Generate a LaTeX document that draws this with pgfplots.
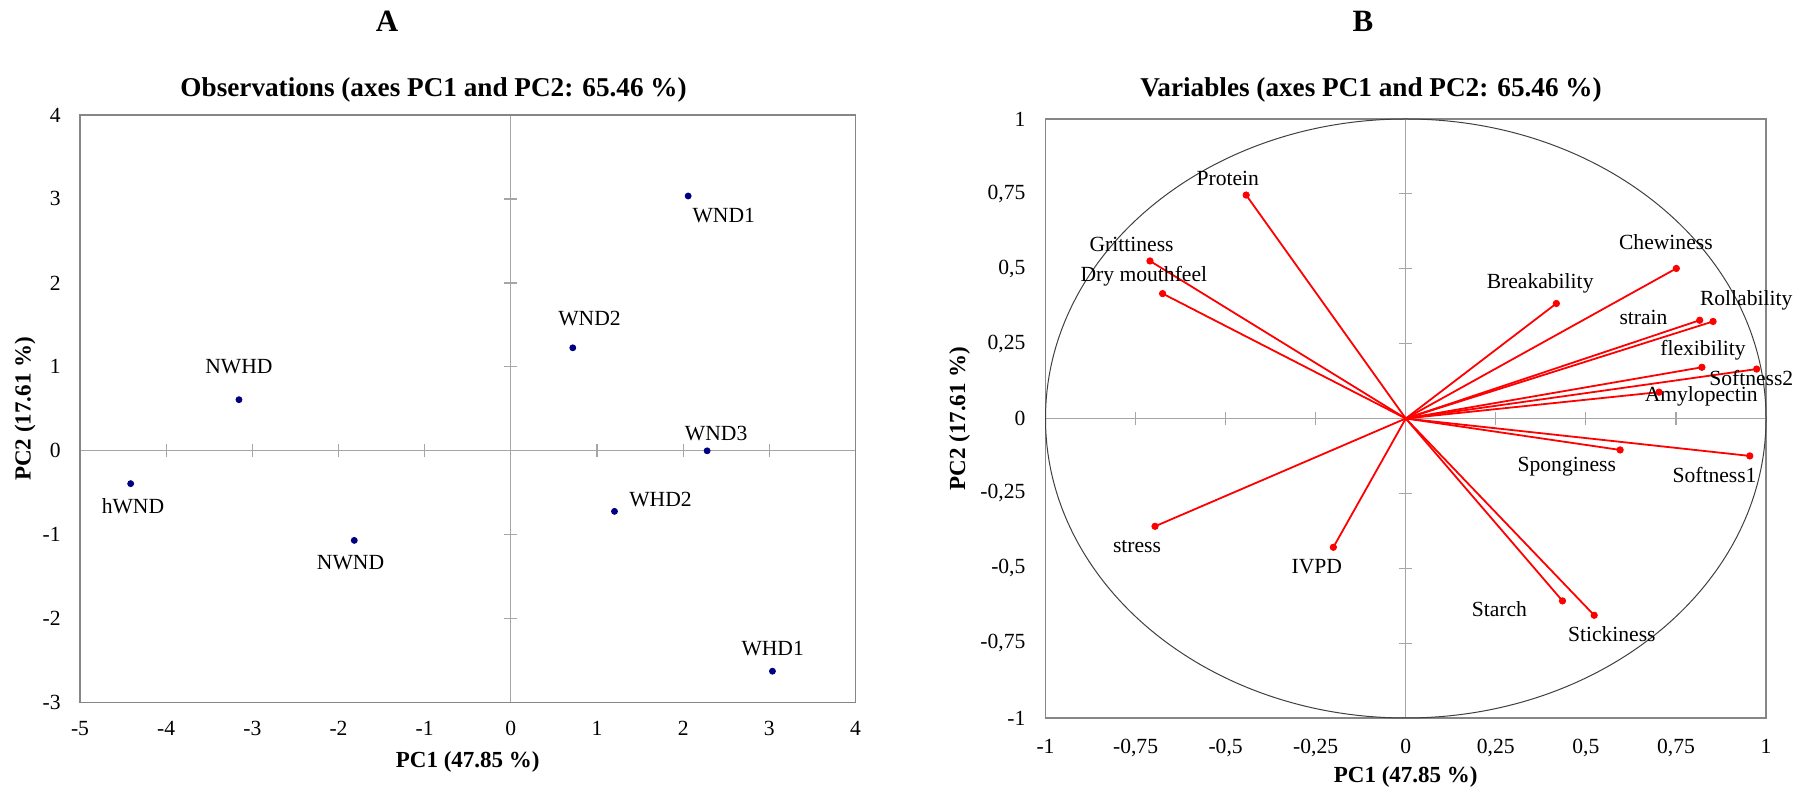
\documentclass[border=0pt]{standalone}
\usepackage{fontspec}
\setmainfont{Liberation Serif}
\usepackage{pgfplots}
\usepackage{pgfplotstable}
\pgfplotsset{compat=1.18}
\definecolor{navyd}{HTML}{000080}
\definecolor{framegray}{HTML}{868686}
\definecolor{zerogray}{HTML}{A6A6A6}
\definecolor{circgray}{HTML}{404040}

% Observations (PC1, PC2 scores)
\pgfplotstableread{
x y
2.058 3.035
0.719 1.227
2.278 0.000
-3.155 0.609
-4.412 -0.391
-1.817 -1.067
1.203 -0.721
3.036 -2.625
}\obsdata

% Variables (loadings on PC1, PC2)
\pgfplotstableread{
x y
-0.443 0.746
-0.710 0.526
-0.675 0.417
0.751 0.501
0.418 0.384
0.816 0.328
0.853 0.324
0.822 0.171
0.974 0.165
0.703 0.088
0.595 -0.105
0.955 -0.125
-0.696 -0.360
-0.201 -0.430
0.435 -0.609
0.523 -0.657
}\vardata

\tikzset{lbl/.style={font=\fontsize{10.8}{13}\selectfont}}

\begin{document}
\begin{tikzpicture}[font=\fontsize{10.8}{13}\selectfont]
\useasboundingbox (0,0) rectangle (906.5pt,395pt);

% ---------- titles ----------
\node[font=\fontsize{15.5}{18}\selectfont\bfseries] at (193.5pt,384.2pt) {A};
\node[font=\fontsize{13.6}{16}\selectfont\bfseries] at (216.8pt,350pt) {Observations (axes PC1 and PC2: 65.46 \%)};
\node[font=\fontsize{15.5}{18}\selectfont\bfseries] at (681.5pt,384.2pt) {B};
\node[font=\fontsize{13.6}{16}\selectfont\bfseries] at (685.5pt,350pt) {Variables (axes PC1 and PC2: 65.46 \%)};

% ---------- left panel: zero lines ----------
\begin{axis}[at={(40pt,43.65pt)}, anchor=south west, scale only axis,
  width=387.75pt, height=293.85pt,
  xmin=-5, xmax=4, ymin=-3, ymax=4,
  axis lines=middle, axis line style={-, draw=zerogray, line width=0.6pt},
  xtick={-4,-3,-2,-1,1,2,3}, ytick={-2,-1,1,2,3},
  tick label style={opacity=0, text opacity=0},
  tick align=center, major tick length=6.5pt,
  tick style={draw=zerogray, line width=0.6pt}]
\end{axis}

% ---------- left panel: frame, data ----------
\begin{axis}[at={(40pt,43.65pt)}, anchor=south west, scale only axis,
  width=387.75pt, height=293.85pt,
  xmin=-5, xmax=4, ymin=-3, ymax=4,
  xtick={-5,-4,-3,-2,-1,0,1,2,3,4}, ytick={-3,-2,-1,0,1,2,3,4},
  major tick length=0pt,
  axis line style={draw=framegray, line width=0.8pt},
  tick label style={font=\fontsize{10.8}{13}\selectfont},
  /pgf/number format/assume math mode=true,
  xticklabel style={yshift=-5.85pt}, yticklabel style={xshift=-6.15pt},
  xlabel={PC1 (47.85 \%)}, ylabel={PC2 (17.61 \%)},
  xlabel style={at={(axis description cs:0.5,0)}, anchor=center, yshift=-29.5pt,
    font=\fontsize{11.5}{13}\selectfont\bfseries},
  ylabel style={at={(axis description cs:0,0.5)}, anchor=center, yshift=27.5pt,
    font=\fontsize{11.5}{13}\selectfont\bfseries},
  clip=false]
  \addplot[only marks, mark=*, mark size=1.5pt, color=navyd] table[x=x,y=y] {\obsdata};
  \node[lbl] at (axis cs:2.471,2.808) {WND1};
  \node[lbl] at (axis cs:0.913,1.573) {WND2};
  \node[lbl] at (axis cs:2.383,0.203) {WND3};
  \node[lbl] at (axis cs:-3.155,1.007) {NWHD};
  \node[lbl] at (axis cs:-4.385,-0.657) {hWND};
  \node[lbl] at (axis cs:-1.860,-1.335) {NWND};
  \node[lbl] at (axis cs:1.737,-0.577) {WHD2};
  \node[lbl] at (axis cs:3.039,-2.357) {WHD1};
\end{axis}

% ---------- right panel: zero lines ----------
\begin{axis}[at={(522.75pt,36pt)}, anchor=south west, scale only axis,
  width=360.25pt, height=299.5pt,
  xmin=-1, xmax=1, ymin=-1, ymax=1,
  axis lines=middle, axis line style={-, draw=zerogray, line width=0.6pt},
  xtick={-0.75,-0.5,-0.25,0.25,0.5,0.75}, ytick={-0.75,-0.5,-0.25,0.25,0.5,0.75},
  tick label style={opacity=0, text opacity=0},
  tick align=center, major tick length=6.5pt,
  tick style={draw=zerogray, line width=0.6pt}]
\end{axis}

% ---------- right panel: frame, circle, vectors ----------
\begin{axis}[at={(522.75pt,36pt)}, anchor=south west, scale only axis,
  width=360.25pt, height=299.5pt,
  xmin=-1, xmax=1, ymin=-1, ymax=1,
  xtick={-1,-0.75,-0.5,-0.25,0,0.25,0.5,0.75,1},
  ytick={-1,-0.75,-0.5,-0.25,0,0.25,0.5,0.75,1},
  major tick length=0pt,
  axis line style={draw=framegray, line width=0.8pt},
  tick label style={font=\fontsize{10.8}{13}\selectfont},
  /pgf/number format/assume math mode=true,
  /pgf/number format/use comma,
  xticklabel style={yshift=-7.2pt}, yticklabel style={xshift=-6.5pt},
  xlabel={PC1 (47.85 \%)}, ylabel={PC2 (17.61 \%)},
  xlabel style={at={(axis description cs:0.5,0)}, anchor=center, yshift=-29.5pt,
    font=\fontsize{11.5}{13}\selectfont\bfseries},
  ylabel style={at={(axis description cs:0,0.5)}, anchor=center, yshift=43pt,
    font=\fontsize{11.5}{13}\selectfont\bfseries},
  clip=false]
  \draw[circgray, line width=0.5pt] (axis cs:0,0) ellipse [x radius=1, y radius=1];
  \addplot[red, line width=0.9pt, mark=none,
    quiver={u=\thisrow{x}, v=\thisrow{y}}] table[x expr=0, y expr=0] {\vardata};
  \addplot[only marks, mark=*, mark size=1.6pt, color=red] table[x=x,y=y] {\vardata};
  \node[lbl] at (axis cs:-0.494,0.801) {Protein};
  \node[lbl] at (axis cs:-0.761,0.582) {Grittiness};
  \node[lbl] at (axis cs:-0.727,0.475) {Dry mouthfeel};
  \node[lbl] at (axis cs:0.722,0.590) {Chewiness};
  \node[lbl] at (axis cs:0.373,0.451) {Breakability};
  \node[lbl] at (axis cs:0.660,0.339) {strain};
  \node[lbl] at (axis cs:0.945,0.393) {Rollability};
  \node[lbl] at (axis cs:0.825,0.228) {flexibility};
  \node[lbl] at (axis cs:0.959,0.134) {Softness2};
  \node[lbl] at (axis cs:0.820,0.074) {Amylopectin};
  \node[lbl] at (axis cs:0.447,-0.162) {Sponginess};
  \node[lbl] at (axis cs:0.857,-0.189) {Softness1};
  \node[lbl] at (axis cs:-0.746,-0.429) {stress};
  \node[lbl] at (axis cs:-0.247,-0.495) {IVPD};
  \node[lbl] at (axis cs:0.260,-0.638) {Starch};
  \node[lbl] at (axis cs:0.572,-0.721) {Stickiness};
\end{axis}
\end{tikzpicture}
\end{document}
